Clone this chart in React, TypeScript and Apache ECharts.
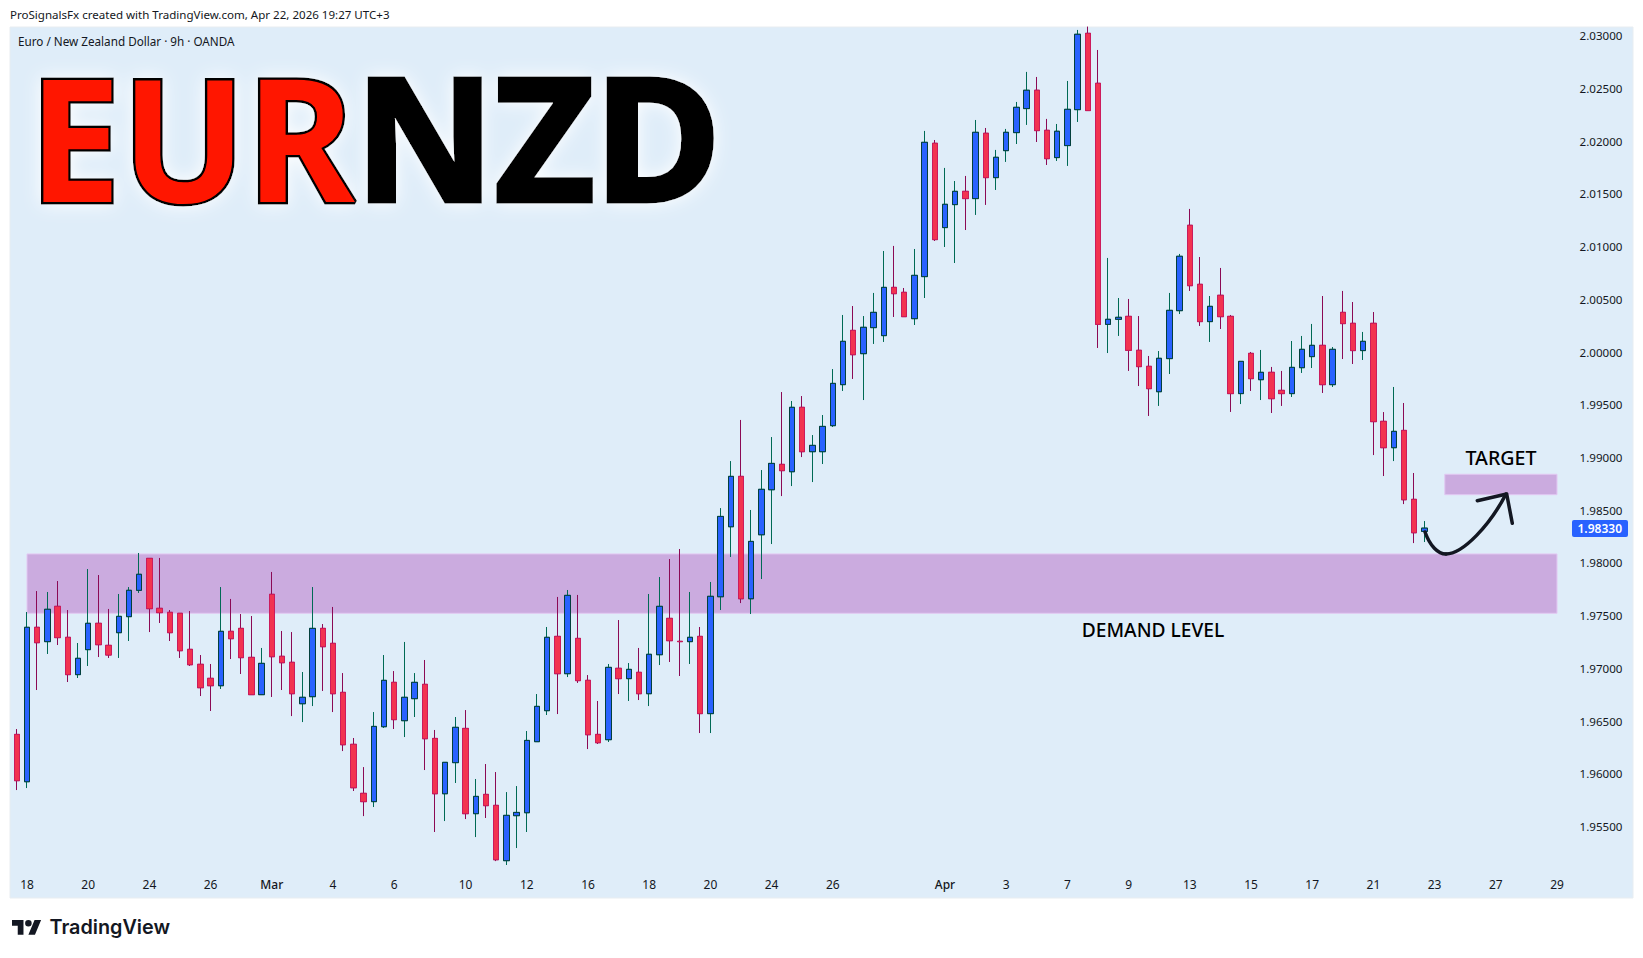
import React, { useRef, useEffect } from 'react';
import * as echarts from 'echarts';

// tick labels of the time axis, one slot per 9h bar (empty slots run past the last bar)
const categories = [
  '', '18', '', '', '', '', '', '20', '', '',
  '', '', '', '24', '', '', '', '', '', '26',
  '', '', '', '', '', 'Mar', '', '', '', '',
  '', '4', '', '', '', '', '', '6', '', '',
  '', '', '', '', '10', '', '', '', '', '',
  '12', '', '', '', '', '', '16', '', '', '',
  '', '', '18', '', '', '', '', '', '20', '',
  '', '', '', '', '24', '', '', '', '', '',
  '26', '', '', '', '', '', '', '', '', '',
  '', 'Apr', '', '', '', '', '', '3', '', '',
  '', '', '', '7', '', '', '', '', '', '9',
  '', '', '', '', '', '13', '', '', '', '',
  '', '15', '', '', '', '', '', '17', '', '',
  '', '', '', '21', '', '', '', '', '', '23',
  '', '', '', '', '', '27', '', '', '', '',
  '', '29', '', '', '', '', '', '', '',
];

const opens = [
  1.96373, 1.95924, 1.97389, 1.97253, 1.97588, 1.97294, 1.9694, 1.97177, 1.97427, 1.97218,
  1.97338, 1.9749, 1.9774, 1.98043, 1.97569, 1.97531, 1.97522, 1.9718, 1.97038, 1.96905,
  1.96835, 1.97351, 1.97379, 1.97104, 1.9675, 1.97702, 1.97114, 1.97057, 1.96664, 1.96731,
  1.97379, 1.97237, 1.96772, 1.96279, 1.95814, 1.95735, 1.96446, 1.96867, 1.96503, 1.96712,
  1.96848, 1.96335, 1.9581, 1.96105, 1.9643, 1.95621, 1.95804, 1.957, 1.95175, 1.95602,
  1.9563, 1.96304, 1.96598, 1.97303, 1.96949, 1.97284, 1.96886, 1.96373, 1.96323, 1.97,
  1.96902, 1.96962, 1.96759, 1.97129, 1.97474, 1.97256, 1.97253, 1.97303, 1.9657, 1.97679,
  1.98343, 1.98821, 1.9766, 1.98267, 1.98694, 1.98935, 1.98865, 1.99476, 1.99055, 1.99055,
  1.99302, 1.99691, 2.00206, 1.99985, 2.00232, 2.00156, 2.00614, 2.00567, 2.00317, 2.00716,
  2.01981, 2.01181, 2.01399, 2.01525, 2.01456, 2.02076, 2.01655, 2.01911, 2.02082, 2.0231,
  2.02484, 2.02104, 2.01845, 2.01959, 2.023, 2.03024, 2.0255, 2.00263, 2.00311, 2.00339,
  2.00017, 1.99865, 1.99624, 1.99938, 2.00393, 2.01203, 2.00643, 2.00289, 2.00539, 2.00339,
  1.99606, 1.99988, 1.99738, 1.99808, 1.99637, 1.99606, 1.99852, 1.99957, 2.00064, 1.99691,
  2.00377, 2.00273, 2.00014, 2.00273, 1.99343, 1.99093, 1.99257, 1.98603, 1.98299,
];

const closes = [
  1.95934, 1.97389, 1.97243, 1.9756, 1.97291, 1.9694, 1.97095, 1.97427, 1.97224, 1.97126,
  1.97493, 1.9774, 1.97892, 1.97566, 1.97528, 1.97338, 1.97167, 1.97034, 1.96816, 1.96835,
  1.97351, 1.97281, 1.97101, 1.9675, 1.97047, 1.9711, 1.97053, 1.96759, 1.96725, 1.97379,
  1.97205, 1.96759, 1.96275, 1.95867, 1.95735, 1.96449, 1.96886, 1.96513, 1.96725, 1.96867,
  1.96332, 1.9581, 1.96108, 1.9644, 1.95621, 1.95785, 1.95697, 1.95184, 1.95605, 1.95633,
  1.96316, 1.96639, 1.97294, 1.96949, 1.97692, 1.96883, 1.9637, 1.96294, 1.97009, 1.96902,
  1.9699, 1.96759, 1.97133, 1.97588, 1.97262, 1.97253, 1.97294, 1.9657, 1.97683, 1.98441,
  1.98821, 1.9766, 1.98204, 1.98698, 1.98944, 1.98875, 1.99476, 1.99055, 1.99115, 1.99295,
  1.99703, 2.00102, 1.99975, 2.00235, 2.00377, 2.00614, 2.00554, 2.00336, 2.00728, 2.0199,
  2.01067, 2.01402, 2.01525, 2.01456, 2.02085, 2.01655, 2.01848, 2.02085, 2.02322, 2.02484,
  2.02101, 2.01835, 2.02095, 2.02303, 2.03015, 2.02291, 2.00263, 2.00311, 2.0033, 2.00017,
  1.99862, 1.99653, 1.99941, 2.00396, 2.00909, 2.0063, 2.00289, 2.00434, 2.00336, 1.99606,
  1.99912, 1.99748, 1.99808, 1.99558, 1.99606, 1.99855, 2.00026, 2.00064, 1.99691, 2.00026,
  2.0027, 2.00014, 2.00102, 1.9934, 1.99093, 1.99248, 1.98599, 1.98286, 1.9833,
];

const lows = [
  1.95845, 1.95864, 1.96794, 1.97136, 1.97221, 1.9687, 1.96908, 1.97022, 1.97107, 1.97098,
  1.97098, 1.97259, 1.97715, 1.97344, 1.9743, 1.97259, 1.97098, 1.97022, 1.96737, 1.96595,
  1.96804, 1.97088, 1.96946, 1.9675, 1.9675, 1.96728, 1.96794, 1.96547, 1.9649, 1.96642,
  1.96785, 1.96585, 1.96215, 1.95836, 1.95598, 1.95684, 1.96434, 1.96424, 1.96348, 1.96538,
  1.96035, 1.95447, 1.95551, 1.95912, 1.9557, 1.95399, 1.9558, 1.95171, 1.95134, 1.95295,
  1.95447, 1.96304, 1.96557, 1.96566, 1.96917, 1.96861, 1.96234, 1.96282, 1.96301, 1.96756,
  1.9669, 1.96699, 1.96642, 1.97031, 1.9706, 1.96927, 1.97041, 1.96386, 1.96386, 1.97553,
  1.98056, 1.97619, 1.97515, 1.97847, 1.98179, 1.98634, 1.98729, 1.99004, 1.98767, 1.98938,
  1.99289, 1.99631, 1.99745, 1.99545, 2.00077, 2.00096, 2.00333, 2.00336, 2.00257, 2.00513,
  2.01054, 2.00997, 2.00845, 2.01158, 2.01301, 2.01396, 2.01538, 2.01804, 2.01974, 2.02155,
  2.01993, 2.01775, 2.01813, 2.01766, 2.02183, 2.02291, 2.00039, 1.99991, 2.00153, 1.99821,
  1.99678, 1.99394, 1.99489, 1.99792, 2.00361, 2.0058, 2.00248, 2.00096, 2.00219, 1.99432,
  1.99507, 1.99631, 1.99545, 1.99422, 1.99489, 1.99574, 1.99802, 1.99849, 1.99612, 1.99669,
  1.99934, 1.99887, 1.99925, 1.99023, 1.98824, 1.98966, 1.98558, 1.98188, 1.98198,
];

const highs = [
  1.96424, 1.97534, 1.97733, 1.97724, 1.97828, 1.97553, 1.9724, 1.97942, 1.97885, 1.97563,
  1.97705, 1.97771, 1.98094, 1.98043, 1.98047, 1.97553, 1.97522, 1.97544, 1.97126, 1.97041,
  1.97771, 1.97658, 1.97515, 1.97496, 1.97193, 1.97914, 1.97354, 1.97344, 1.96965, 1.97771,
  1.9742, 1.97582, 1.96955, 1.96339, 1.96063, 1.96585, 1.97126, 1.96974, 1.9725, 1.96955,
  1.97079, 1.96415, 1.96108, 1.96538, 1.96604, 1.9595, 1.96092, 1.96016, 1.95826, 1.95883,
  1.96405, 1.96756, 1.97392, 1.97677, 1.97743, 1.97696, 1.96936, 1.9669, 1.97041, 1.97458,
  1.9705, 1.97193, 1.97705, 1.97866, 1.98037, 1.98132, 1.97724, 1.97392, 1.97819, 1.9852,
  1.98966, 1.99356, 1.98502, 1.98881, 1.99194, 1.99621, 1.99536, 1.99583, 1.99213, 1.99403,
  1.99839, 2.00352, 2.00437, 2.00342, 2.00561, 2.00959, 2.01007, 2.00608, 2.00978, 2.02098,
  2.02012, 2.01747, 2.01623, 2.01671, 2.02202, 2.02126, 2.01918, 2.02117, 2.02373, 2.02658,
  2.0261, 2.02212, 2.02164, 2.02572, 2.03056, 2.03088, 2.02866, 2.00893, 2.00513, 2.00504,
  2.00342, 1.99963, 2.0001, 2.00561, 2.00931, 2.01358, 2.00902, 2.00532, 2.00798, 2.00352,
  1.99912, 2.00001, 2.0002, 1.99859, 1.99821, 2.00105, 2.00153, 2.00267, 2.00532, 2.00048,
  2.0058, 2.00475, 2.00191, 2.0038, 1.99431, 1.99669, 1.99517, 1.98853, 1.98397,
];

const priceTicks = [
  1.955, 1.96, 1.965, 1.97, 1.975, 1.98, 1.985, 1.99, 1.995, 2, 2.005, 2.01, 2.015, 2.02, 2.025, 2.03,
];

// zones: first bar slot, last bar slot, upper price, lower price
const demandZone = [1, 151, 1.98085, 1.97522];
const targetZone = [140, 151, 1.98841, 1.98647];
const lastPrice = '1.98330';

const FONT = '"Noto Sans", sans-serif';
const TEXT = '#131722';

const tvLogo = echarts.graphic.extendPath(
  'M14 18H7V7H0V0h14v18zM28 18h-8L27.5 0h8L28 18zM20 0a4 4 0 1 1 0 8 4 4 0 0 1 0-8z',
  {}
);
echarts.graphic.registerShape('tvLogo', tvLogo);

const zoneArea = (z: number[]) => [
  { xAxis: z[0], yAxis: z[2] },
  { xAxis: z[1], yAxis: z[3] },
];

const App = () => {
  const chartRef = useRef<HTMLDivElement>(null);

  useEffect(() => {
    const myChart = echarts.init(chartRef.current, null, { renderer: 'svg' });

    const candles = opens.map((o, i) => [o, closes[i], lows[i], highs[i]]);
    const bodies = opens.map((o, i) => [o, closes[i], Math.min(o, closes[i]), Math.max(o, closes[i])]);

    const option = {
      animation: false,
      backgroundColor: '#ffffff',
      grid: { left: 11.7, right: 9.5, top: 27, bottom: 60 },
      xAxis: {
        type: 'category',
        data: categories,
        boundaryGap: true,
        axisLine: { show: false },
        axisTick: { show: false },
        splitLine: { show: false },
        axisLabel: {
          inside: true,
          interval: 0,
          margin: 8,
          fontFamily: FONT,
          fontSize: 12,
          color: TEXT,
          formatter: (v: string) => (/[A-Za-z]/.test(v) ? `{m|${v}}` : v),
          rich: { m: { fontFamily: FONT, fontSize: 12, fontWeight: 500, color: TEXT } },
        },
      },
      yAxis: {
        type: 'value',
        position: 'right',
        scale: true,
        min: 1.94821,
        max: 2.03084,
        axisLine: { show: false },
        axisTick: { show: false },
        splitLine: { show: false },
        axisLabel: {
          inside: true,
          margin: 11,
          fontFamily: FONT,
          fontSize: 11.6,
          color: TEXT,
          customValues: priceTicks,
          formatter: (v: number) => v.toFixed(5),
        },
      },
      series: [
        {
          name: 'wicks',
          type: 'candlestick',
          barWidth: 6,
          z: 3,
          itemStyle: {
            color: '#2962ff',
            color0: '#f23350',
            borderColor: '#006a55',
            borderColor0: '#8b0a55',
            borderWidth: 1,
          },
          data: candles,
          markArea: {
            silent: true,
            z: 1,
            itemStyle: { color: '#cbabdf', borderColor: '#e2c8f2', borderWidth: 1 },
            data: [zoneArea(demandZone), zoneArea(targetZone)],
          },
        },
        {
          name: 'bodies',
          type: 'candlestick',
          barWidth: 6,
          z: 4,
          itemStyle: {
            color: '#2962ff',
            color0: '#f23350',
            borderColor: '#04403c',
            borderColor0: '#cc1b5c',
            borderWidth: 1,
          },
          data: bodies,
        },
      ],
      graphic: [
        {
          type: 'rect',
          z: -5,
          shape: { x: 10, y: 27, width: 1623, height: 871 },
          style: { fill: '#dfedf9', stroke: '#e8edf1', lineWidth: 1 },
        },
        {
          type: 'text',
          x: 10,
          y: 14,
          style: {
            text: 'ProSignalsFx created with TradingView.com, Apr 22, 2026 19:27 UTC+3',
            font: `11.55px ${FONT}`,
            fill: TEXT,
            textVerticalAlign: 'middle',
          },
        },
        {
          type: 'text',
          x: 18,
          y: 41,
          style: {
            text: 'Euro / New Zealand Dollar · 9h · OANDA',
            font: `11.7px ${FONT}`,
            fill: TEXT,
            textVerticalAlign: 'middle',
          },
        },
        {
          type: 'text',
          x: 28.6,
          y: 135,
          scaleX: 0.967,
          z: 6,
          style: {
            text: 'EUR',
            font: `bold 171px ${FONT}`,
            fill: '#ff1500',
            stroke: '#000000',
            lineWidth: 5,
            lineJoin: 'round',
            textVerticalAlign: 'middle',
            textShadowBlur: 18,
            textShadowColor: '#ffffff',
          },
        },
        {
          type: 'text',
          x: 354.8,
          y: 135,
          scaleX: 1.007,
          z: 6,
          style: {
            text: 'NZD',
            font: `bold 171px ${FONT}`,
            fill: '#000000',
            stroke: '#000000',
            lineWidth: 5,
            lineJoin: 'round',
            textVerticalAlign: 'middle',
            textShadowBlur: 18,
            textShadowColor: '#ffffff',
          },
        },
        {
          type: 'text',
          x: 1501,
          y: 457,
          z: 6,
          style: {
            text: 'TARGET',
            font: `500 19.6px ${FONT}`,
            fill: '#000000',
            textAlign: 'center',
            textVerticalAlign: 'middle',
          },
        },
        {
          type: 'text',
          x: 1153,
          y: 629,
          z: 6,
          style: {
            text: 'DEMAND LEVEL',
            font: `500 19.2px ${FONT}`,
            fill: '#000000',
            textAlign: 'center',
            textVerticalAlign: 'middle',
          },
        },
        {
          type: 'rect',
          z: 6,
          shape: { x: 1572, y: 520, width: 56, height: 17, r: 2 },
          style: { fill: '#2962ff' },
        },
        {
          type: 'text',
          x: 1622,
          y: 528.5,
          z: 7,
          style: {
            text: lastPrice,
            font: `600 12px ${FONT}`,
            fill: '#ffffff',
            textAlign: 'right',
            textVerticalAlign: 'middle',
          },
        },
        {
          type: 'bezierCurve',
          z: 8,
          shape: { x1: 1425, y1: 532, cpx1: 1430, cpy1: 546, cpx2: 1438, cpy2: 554, x2: 1446, y2: 554 },
          style: { stroke: TEXT, lineWidth: 3.5, fill: null, lineCap: 'round' },
        },
        {
          type: 'bezierCurve',
          z: 8,
          shape: { x1: 1446, y1: 554, cpx1: 1463, cpy1: 554, cpx2: 1490, cpy2: 525, x2: 1506, y2: 494 },
          style: { stroke: TEXT, lineWidth: 3.5, fill: null, lineCap: 'round' },
        },
        {
          type: 'polyline',
          z: 8,
          shape: { points: [[1477.3, 500.7], [1506.7, 494], [1512.3, 523.3]] },
          style: { stroke: TEXT, lineWidth: 3.5, fill: null, lineCap: 'round', lineJoin: 'round' },
        },
        {
          type: 'tvLogo',
          x: 12,
          y: 920,
          scaleX: 0.82,
          scaleY: 0.82,
          style: { fill: '#131722' },
        },
        {
          type: 'text',
          x: 49.5,
          y: 927,
          style: {
            text: 'TradingView',
            font: `600 19.8px Inter, ${FONT}`,
            fill: '#131722',
            textVerticalAlign: 'middle',
          },
        },
      ],
    };

    myChart.setOption(option);

    return () => {
      myChart.dispose();
    };
  }, []);

  return (
    <div
      ref={chartRef}
      style={{ position: 'fixed', left: 0, top: 0, width: '1643px', height: '958px' }}
    />
  );
};

export default App;
